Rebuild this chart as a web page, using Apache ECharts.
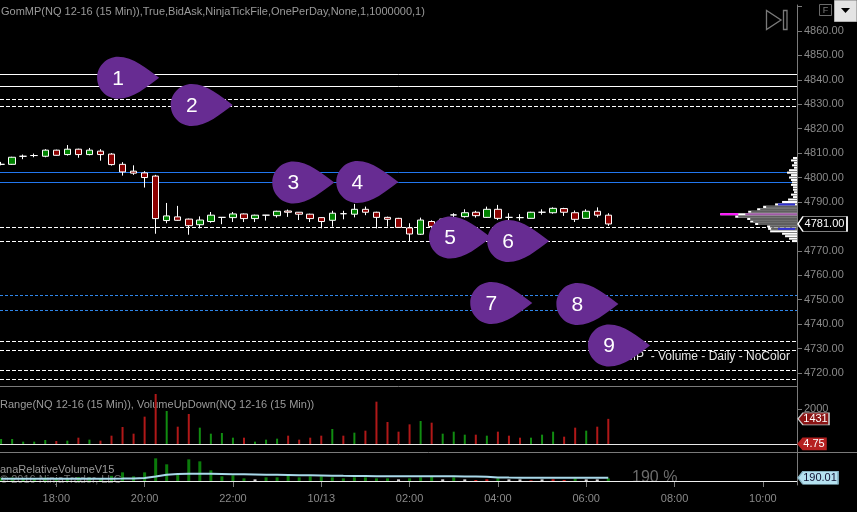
<!DOCTYPE html>
<html><head><meta charset="utf-8">
<script src="https://cdn.jsdelivr.net/npm/echarts@6/dist/echarts.min.js"></script>
<style>html,body{margin:0;padding:0;background:#000;overflow:hidden}#c{width:857px;height:512px}</style>
</head><body><div id="c"></div>
<script>
// ---------- data ----------
const times = ['16:45','17:00','17:15','17:30','17:45','18:00','18:15','18:30','18:45','19:00','19:15','19:30','19:45','20:00',
  '20:15','20:30','20:45','21:00','21:15','21:30','21:45','22:00','22:15','22:30','22:45','23:00','23:15','23:30','23:45',
  '00:00','00:15','00:30','00:45','01:00','01:15','01:30','01:45','02:00','02:15','02:30','02:45','03:00','03:15','03:30',
  '03:45','04:00','04:15','04:30','04:45','05:00','05:15','05:30','05:45','06:00','06:15','06:30'];
const opens  = [4805.4,4805.4,4808.7,4809.0,4808.7,4811.2,4809.4,4811.6,4809.4,4810.8,4809.6,4805.4,4802.6,4801.9,
  4800.6,4782.4,4783.9,4783.0,4780.7,4782.0,4783.7,4783.6,4785.1,4783.2,4784.6,4784.4,4786.3,4785.8,4785.0,
  4783.6,4782.5,4785.2,4785.0,4787.0,4785.8,4783.7,4783.3,4779.4,4776.8,4782.0,4780.2,4784.7,4784.0,4785.8,
  4783.7,4787.0,4783.7,4783.6,4783.3,4785.8,4785.6,4787.3,4785.6,4783.3,4786.2,4784.6];
const closes = [4805.4,4808.3,4808.7,4809.0,4811.2,4809.1,4811.6,4809.4,4811.2,4809.4,4805.3,4802.3,4801.8,4800.0,
  4783.2,4784.3,4782.5,4780.3,4782.6,4784.6,4783.7,4785.1,4783.2,4784.6,4784.6,4786.2,4785.8,4785.0,4783.2,
  4782.0,4785.4,4785.2,4787.0,4785.8,4783.7,4782.9,4779.6,4776.9,4782.6,4780.0,4783.0,4784.7,4785.6,4784.4,
  4787.0,4783.3,4783.7,4783.6,4785.8,4785.8,4787.4,4785.8,4782.9,4786.2,4784.6,4781.0];
const lows   = [4805.0,4805.2,4807.5,4808.3,4808.3,4809.0,4809.0,4808.1,4809.1,4806.9,4804.9,4800.8,4801.1,4795.9,
  4777.0,4781.3,4782.3,4776.6,4779.2,4781.5,4780.9,4781.8,4781.8,4781.8,4782.4,4783.6,4783.9,4782.6,4781.8,
  4779.2,4779.9,4782.9,4783.7,4784.6,4779.2,4779.9,4779.5,4773.8,4776.5,4779.0,4779.8,4783.5,4783.6,4783.6,
  4783.5,4782.6,4782.4,4782.4,4783.2,4784.8,4785.2,4784.3,4781.8,4783.1,4783.7,4780.2];
const highs  = [4806.4,4808.5,4809.4,4809.8,4811.6,4811.4,4813.3,4811.8,4812.1,4811.6,4810.0,4806.3,4805.0,4802.6,
  4801.1,4789.6,4788.4,4783.2,4784.1,4785.9,4783.7,4785.9,4785.3,4784.8,4784.6,4786.4,4786.9,4785.9,4785.2,
  4783.8,4786.4,4786.4,4789.2,4788.1,4786.0,4784.0,4783.5,4781.3,4783.6,4782.5,4783.4,4785.4,4787.0,4786.4,
  4788.1,4788.8,4785.4,4785.0,4786.0,4787.0,4787.8,4787.6,4786.5,4787.0,4787.8,4785.4];
const volumes = [285,285,133,133,228,171,190,360,247,190,474,967,588,1556,
  2846,1878,986,1707,930,588,626,360,360,133,247,304,474,247,360,
  474,854,474,645,759,2409,1252,702,1119,1309,1214,588,702,531,531,
  474,702,474,360,360,531,702,417,930,759,986,1431];
const volumeDirs = ['u','u','u','u','u','d','u','d','u','d','d','d','d','d',
  'd','u','d','d','u','u','u','u','d','u','u','u','d','d','d',
  'd','u','d','u','d','d','d','d','d','u','d','u','u','u','d',
  'u','d','d','d','u','u','u','d','d','u','d','d'];
const relVolumes = [180,200,150,140,190,120,160,230,190,160,300,499,269,499,
  1305,960,441,1247,1132,614,269,326,154,96,211,211,384,211,269,
  269,211,154,211,211,154,154,96,154,211,269,96,211,96,58,
  96,154,96,96,38,96,96,58,154,96,96,154];
const relVolumeKinds = ['g','g','g','g','g','g','g','g','g','g','g','g','g','g',
  'g','g','g','g','g','g','g','g','g','w','g','g','g','g','g',
  'g','g','g','g','g','g','g','w','g','g','g','w','g','w','r',
  'r','g','w','w','r','w','r','r','g','w','w','g'];
const relVolumeAvg = [134,134,134,134,134,134,134,134,134,134,134,140,150,170,
  260,360,410,422,422,415,405,395,385,375,365,355,345,335,325,
  315,305,298,292,286,280,276,272,270,269,269,268,268,266,262,
  240,200,195,193,192,192,191,191,190.5,190.3,190.1,190.01];

const profilePrices = [4774,4775,4776,4777,4778,4779,4780,4781,4782,4783,4784,4785,4786,4787,4788,4789,4790,
  4791,4792,4793,4794,4795,4796,4797,4798,4799,4800,4801,4802,4803,4804,4805,4806,4807,4808];
const profileVolumes = [5,8,12,15,27,29,30,42,47,50,62,77,49,40,34,22,15,
  9,4,6,3,4,4,6,5,6,8,6,10,8,3,5,3,6,4];
const profilePOC = 4785;
const valueAreaLow = 4779;
const valueAreaHigh = 4788;
const profileBlueLevels = [4789, 4779];

const levelsWhiteSolid = [4842.3, 4837.5];
const levelsWhiteDashed = [4832.2, 4829.2, 4779.6, 4774.0, 4733.0, 4729.5, 4721.2, 4717.4];
const levelsBlueSolid = [4802.2, 4798.1];
const levelsBlueDashed = [4751.9, 4745.7];

const markerTimes  = ['19:24','21:04','23:22','00:49','02:55','04:14','03:51','05:48','06:31'];
const markerPrices = [4840.8, 4829.7, 4798.0, 4798.2, 4775.5, 4774.0, 4748.7, 4748.3, 4731.3];
const markerLabels = ['1','2','3','4','5','6','7','8','9'];

const xTickTimes  = ['18:00','20:00','22:00','00:00','02:00','04:00','06:00','08:00','10:00'];
const xTickLabels = ['18:00','20:00','22:00','10/13','02:00','04:00','06:00','08:00','10:00'];
const priceTicks  = [4720,4730,4740,4750,4760,4770,4780,4790,4800,4810,4820,4830,4840,4850,4860,4870];
const priceLabels = [4720,4730,4740,4750,4760,4770,4780,4790,4800,4810,4820,4830,4840,4850,4860];
const volumeTicks = [2000];

const lastPrice = 4781.00;
const lastVolume = 1431;
const lastRange = 4.75;
const lastRelVolume = 190.01;

const titleMain = 'GomMP(NQ 12-16 (15 Min)),True,BidAsk,NinjaTickFile,OnePerDay,None,1,1000000,1)';
const titleVolume = 'Range(NQ 12-16 (15 Min)), VolumeUpDown(NQ 12-16 (15 Min))';
const titleRel = 'anaRelativeVolumeV15';
const copyright = '\u00a9 2016 NinjaTrader, LLC';
const profileText = 'GomMP  - Volume - Daily - NoColor';
const relPctText = '190 %';

// ---------- helpers ----------
function toMin(s){ const [h,m]=s.split(':').map(Number); let v=h*60+m-960; if(v<0) v+=1440; return v; }
const xMin = 43.5, xMax = 1126.4;
const FONT = '"Liberation Sans", Arial, sans-serif';
const GRAY = '#8a8a8a';
const xTickMins = xTickTimes.map(toMin);

const candleData = times.map((t,i)=>[toMin(t), opens[i], closes[i], lows[i], highs[i]]);
const volData = times.map((t,i)=>({value:[toMin(t), volumes[i]], itemStyle:{color: volumeDirs[i]==='u' ? '#118c11' : '#b01818'}}));
const relColors = {g:'#0b7a0b', w:'#cfcfcf', r:'#c81414'};
const relData = times.map((t,i)=>({value:[toMin(t), relVolumes[i]], itemStyle:{color: relColors[relVolumeKinds[i]]}}));
const relAvgData = times.map((t,i)=>[toMin(t), relVolumeAvg[i]]);
const profileData = profilePrices.map((p,i)=>[p, profileVolumes[i]]);
const markerData = markerTimes.map((t,i)=>[toMin(t), markerPrices[i], markerLabels[i]]);

const levelLines = [];
levelsWhiteSolid.forEach(v=>levelLines.push({yAxis:v, lineStyle:{color:'#ffffff', type:'solid', width:1}}));
levelsWhiteDashed.forEach(v=>levelLines.push({yAxis:v, lineStyle:{color:'#ffffff', type:[4,2], width:1}}));
levelsBlueSolid.forEach(v=>levelLines.push({yAxis:v, lineStyle:{color:'#2277ee', type:'solid', width:1}}));
levelsBlueDashed.forEach(v=>levelLines.push({yAxis:v, lineStyle:{color:'#2f86ea', type:[3,2], width:1}}));

function badge(x, y, text, w, h, fill, stroke, color){
  return {coord:[x, y], symbol:'path://M0,'+(h/2)+' L5,0 L'+w+',0 L'+w+','+h+' L5,'+h+' Z',
    symbolSize:[w,h], symbolOffset:[w/2+1,0],
    itemStyle:{color:fill, borderColor:stroke, borderWidth:1},
    label:{show:true, position:'inside', formatter:text, color:color, fontSize:11, fontFamily:FONT, offset:[2,0]}};
}

const teardrop = 'path://M21,0 C9.4,0 0,9.4 0,21 C0,32.6 9.4,42 21,42 C36,42 50,30 62,21 C50,12 36,0 21,0 Z';

const chart = echarts.init(document.getElementById('c'), null, {renderer:'canvas'});
chart.setOption({
  backgroundColor:'#000000',
  animation:false,
  textStyle:{fontFamily:FONT},
  grid:[
    {left:0, right:60, top:5, height:381},
    {left:0, right:60, top:386, height:66},
    {left:0, right:60, top:452, height:33}
  ],
  xAxis:[
    {gridIndex:0, type:'value', min:xMin, max:xMax, axisLine:{show:true, lineStyle:{color:'#7a7a7a'}}, axisTick:{show:false}, axisLabel:{show:false}, splitLine:{show:false}},
    {gridIndex:1, type:'value', min:xMin, max:xMax, axisLine:{show:false}, axisTick:{show:false}, axisLabel:{show:false}, splitLine:{show:false}},
    {gridIndex:2, type:'value', min:xMin, max:xMax, axisLine:{show:true, lineStyle:{color:'#7a7a7a'}},
      axisTick:{show:true, customValues:xTickMins, length:6, lineStyle:{color:'#7a7a7a'}},
      axisLabel:{show:true, customValues:xTickMins, color:GRAY, fontSize:11, margin:8,
        formatter:v=>xTickLabels[xTickMins.indexOf(v)]},
      splitLine:{show:false}},
    {gridIndex:0, type:'value', min:0, max:800, inverse:true, show:false, splitLine:{show:false}}
  ],
  yAxis:[
    {gridIndex:0, type:'value', position:'right', min:4714.7, max:4870.6,
      axisLine:{show:true, lineStyle:{color:'#7a7a7a'}},
      axisTick:{show:true, customValues:priceTicks, length:5, lineStyle:{color:'#7a7a7a'}},
      axisLabel:{show:true, customValues:priceLabels, color:GRAY, fontSize:11, margin:7, formatter:v=>Number(v).toFixed(2)},
      splitLine:{show:false}},
    {gridIndex:1, type:'value', position:'right', min:-455, max:3301,
      axisLine:{show:true, lineStyle:{color:'#7a7a7a'}},
      axisTick:{show:true, customValues:volumeTicks, length:5, lineStyle:{color:'#7a7a7a'}},
      axisLabel:{show:true, customValues:volumeTicks, color:GRAY, fontSize:11, margin:7, formatter:v=>String(Math.round(v))},
      splitLine:{show:false}},
    {gridIndex:2, type:'value', position:'right', min:-230, max:1670,
      axisLine:{show:true, lineStyle:{color:'#7a7a7a'}}, axisTick:{show:false}, axisLabel:{show:false}, splitLine:{show:false}}
  ],
  series:[
    {type:'candlestick', name:'NQ', xAxisIndex:0, yAxisIndex:0, z:3,
      encode:{x:0, y:[1,2,3,4]},
      data:candleData, barWidth:7,
      itemStyle:{color:'#008200', color0:'#8b0000', borderColor:'#ffffff', borderColor0:'#ffffff', borderColorDoji:'#ffffff', borderWidth:1},
      markLine:{silent:true, symbol:['none','none'], label:{show:false}, z:1, data:levelLines},
      markPoint:{silent:true, z:6, data:[badge(xMax, lastPrice, lastPrice.toFixed(2), 49, 15, '#000000', '#ffffff', '#ffffff')]}
    },
    {type:'custom', name:'profile', xAxisIndex:3, yAxisIndex:0, z:4, clip:false,
      data:profileData,
      renderItem:function(params, api){
        const p = api.value(0), v = api.value(1);
        const rt = api.coord([0, p + 0.42]);
        const lb = api.coord([v, p - 0.42]);
        const x0 = lb[0], x1 = rt[0], y0 = rt[1], h = lb[1]-rt[1];
        const ch = [{type:'rect', shape:{x:x0, y:y0, width:x1-x0, height:h}, style:{fill:'#ffffff'}}];
        if (p === profilePOC) {
          ch.push({type:'rect', shape:{x:x0, y:y0, width:18, height:h}, style:{fill:'#ff10ff'}});
          ch.push({type:'rect', shape:{x:x0+25, y:y0, width:x1-x0-25, height:h}, style:{fill:'#a05aa6'}});
        } else if (p >= valueAreaLow && p <= valueAreaHigh && x1-x0 > 8) {
          ch.push({type:'rect', shape:{x:x0+3, y:y0, width:x1-x0-3, height:h}, style:{fill:'#5e5e5e'}});
        }
        if (profileBlueLevels.indexOf(p) >= 0) {
          ch.push({type:'rect', shape:{x:x1-19, y:y0, width:17, height:h}, style:{fill:'#3030d0'}});
        }
        return {type:'group', children:ch};
      }
    },
    {type:'scatter', name:'markers', xAxisIndex:0, yAxisIndex:0, z:10,
      data:markerData, symbol:teardrop, symbolSize:[62,42], symbolOffset:[10,0],
      itemStyle:{color:'#672c92', opacity:1},
      label:{show:true, position:'inside', offset:[-10,1], color:'#ffffff', fontSize:21, fontFamily:FONT, formatter:p=>p.value[2]}
    },
    {type:'bar', name:'Volume', xAxisIndex:1, yAxisIndex:1, z:3, barWidth:2, data:volData,
      markLine:{silent:true, symbol:['none','none'], label:{show:false}, data:[{yAxis:lastRange, lineStyle:{color:'#e8e8e8', type:'solid', width:1}}]},
      markPoint:{silent:true, data:[
        badge(xMax, lastVolume, String(lastVolume), 31, 12, '#8b1414', '#c8c8c8', '#ffffff'),
        badge(xMax, lastRange, String(lastRange), 28, 12, '#b52020', '#b52020', '#ffffff')
      ]}
    },
    {type:'bar', name:'RelVol', xAxisIndex:2, yAxisIndex:2, z:3, barWidth:3, data:relData,
      markLine:{silent:true, symbol:['none','none'], label:{show:false}, data:[{yAxis:0, lineStyle:{color:'#f0f0f0', type:'solid', width:1}}]}
    },
    {type:'line', name:'RelAvg', xAxisIndex:2, yAxisIndex:2, z:4, data:relAvgData, symbol:'none',
      lineStyle:{color:'#a9d9ea', width:2},
      markPoint:{silent:true, data:[badge(xMax, lastRelVolume, lastRelVolume.toFixed(2), 40, 13, '#b5e1f0', '#8ab8c8', '#101030')]}
    }
  ],
  graphic:[
    {type:'text', left:1, top:6, z:1, style:{text:titleMain, fill:'#9a9a9a', font:'11px '+FONT}},
    {type:'text', left:0, top:399, z:1, style:{text:titleVolume, fill:'#9a9a9a', font:'11px '+FONT}},
    {type:'text', left:0, top:464, z:1, style:{text:titleRel, fill:'#9a9a9a', font:'11px '+FONT}},
    {type:'text', left:0, top:474, z:0, style:{text:copyright, fill:'#6f6f6f', font:'11px '+FONT}},
    {type:'text', x:790, y:357, z:1, style:{text:profileText, fill:'#e6e6e6', font:'12px '+FONT, textAlign:'right', textVerticalAlign:'middle'}},
    {type:'text', x:632, y:478, z:1, style:{text:relPctText, fill:'#6c6c6c', font:'16px '+FONT, textAlign:'left', textVerticalAlign:'middle'}},
    {type:'line', z:1, shape:{x1:0, y1:452.5, x2:857, y2:452.5}, style:{stroke:'#7a7a7a', lineWidth:1}},
    {type:'polygon', z:1, shape:{points:[[766.5,10.5],[766.5,29.5],[781,20]]}, style:{fill:'none', stroke:'#7a7a7a', lineWidth:1.3}},
    {type:'rect', z:1, shape:{x:783.5, y:10.5, width:3.5, height:19}, style:{fill:'none', stroke:'#7a7a7a', lineWidth:1.3}},
    {type:'rect', z:1, shape:{x:819.5, y:4.5, width:12, height:11}, style:{fill:'none', stroke:'#6a6a6a', lineWidth:1}},
    {type:'text', z:1, x:825.5, y:10.5, style:{text:'F', fill:'#7a7a7a', font:'9px '+FONT, textAlign:'center', textVerticalAlign:'middle'}},
    {type:'rect', z:1, shape:{x:834.5, y:0.5, width:22, height:21}, style:{fill:'#e4e4e4', stroke:'#b0b0b0', lineWidth:1}},
    {type:'polygon', z:2, shape:{points:[[841,8],[850,8],[845.5,13]]}, style:{fill:'#000000'}}
  ]
});
</script></body></html>
